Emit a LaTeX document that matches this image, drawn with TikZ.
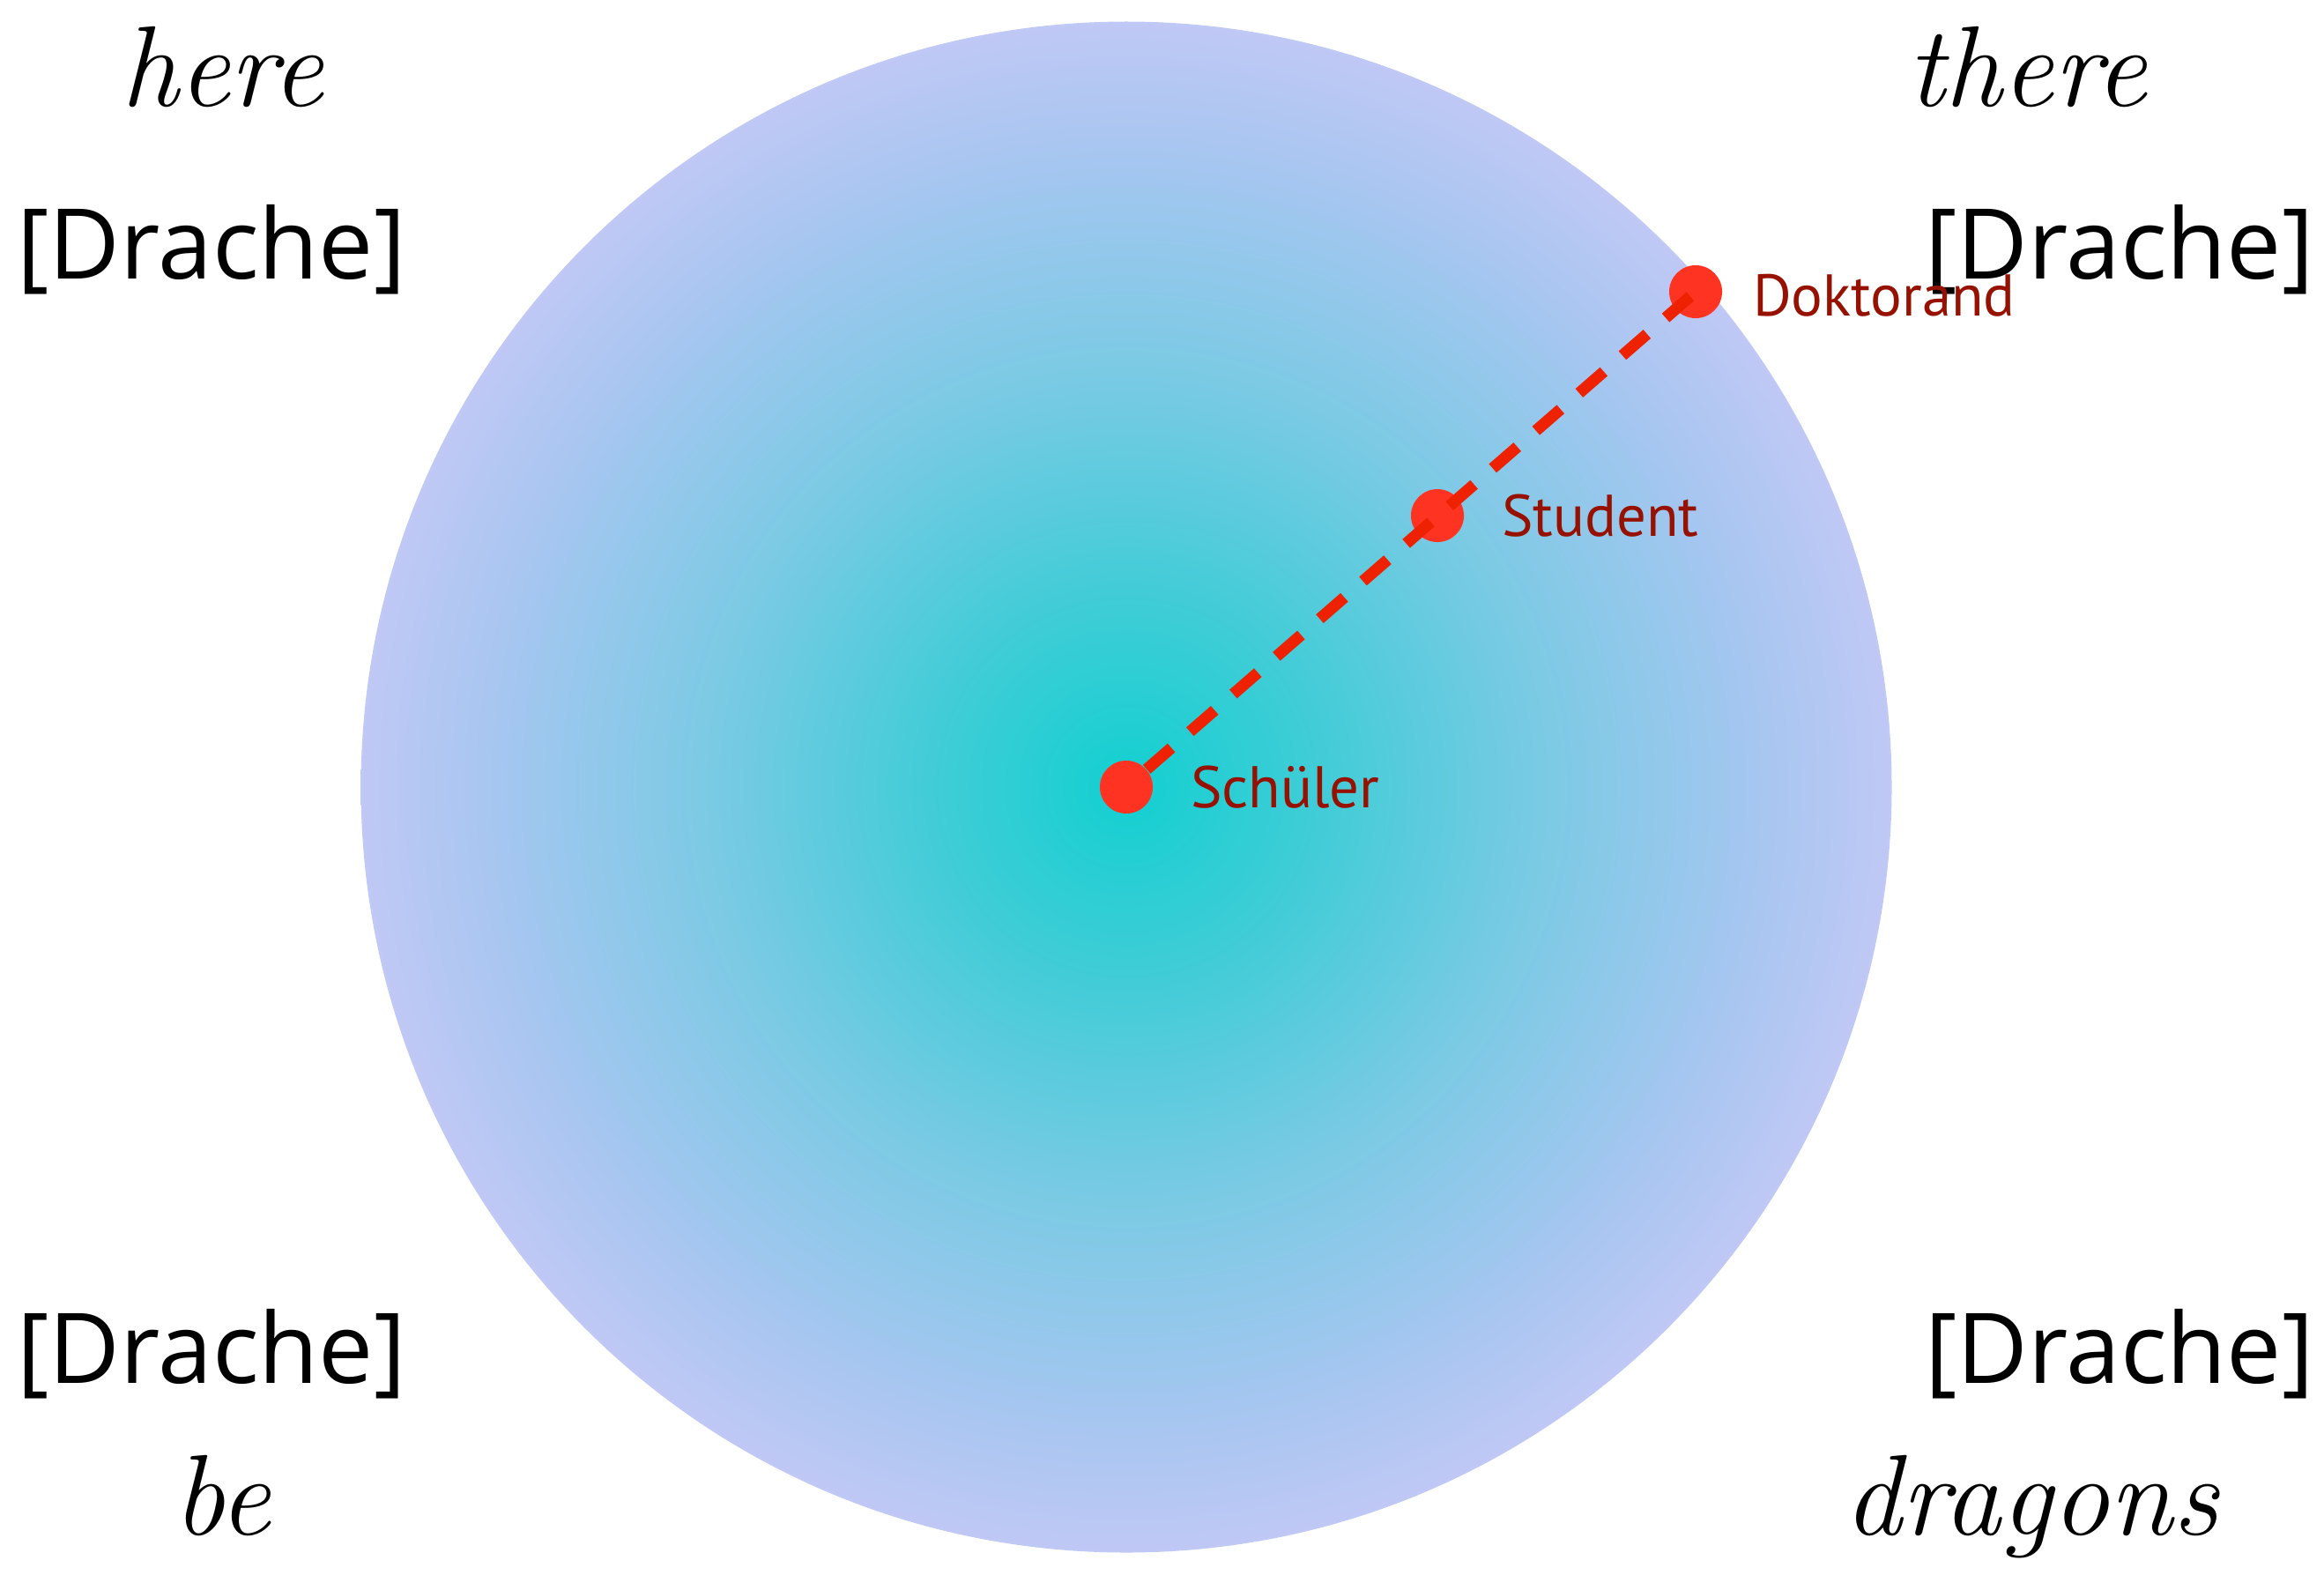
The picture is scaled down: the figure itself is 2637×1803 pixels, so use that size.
\documentclass[tikz,border=0pt]{standalone}
\usepackage{fontspec}
\usepackage{xcolor}
\usepackage{tikz}
\usetikzlibrary{positioning}
\newfontfamily\drachefont{Open Sans}
\newfontfamily\stagefont{PT Sans}
\definecolor{dotRed}{RGB}{255, 51, 34}
\definecolor{trailRed}{RGB}{238, 34, 0}
\definecolor{stageRed}{RGB}{150, 17, 0}
\definecolor{coreCyan}{RGB}{18, 208, 208}
\definecolor{innerTeal}{RGB}{70, 204, 216}
\definecolor{midSky}{RGB}{122, 202, 228}
\definecolor{outerSky}{RGB}{165, 198, 240}
\definecolor{rimLavender}{RGB}{192, 200, 245}
% rim of the circle sits at about 26bp of the shading
\pgfdeclareradialshading{mapglow}{\pgfpoint{0bp}{0bp}}{color(0bp)=(coreCyan); color(7bp)=(innerTeal); color(13.5bp)=(midSky); color(20.5bp)=(outerSky); color(25bp)=(rimLavender); color(50bp)=(rimLavender)}

\begin{document}
\begin{tikzpicture}[
  x=0.01cm, y=-0.01cm,
  dot/.style={circle, fill=dotRed, minimum size=0.6cm, inner sep=0pt},
  stage/.style={text=stageRed, font=\stagefont\fontsize{19}{21}\selectfont, anchor=west},
  drache/.style={font=\drachefont\fontsize{31.5}{36}\selectfont, inner sep=0pt, anchor=base},
  motto/.style={font=\itshape\fontsize{37}{40}\selectfont, inner sep=0pt, anchor=base},
  trail/.style={draw=trailRed, line width=0.13cm, dash pattern=on 0.37cm off 0.28cm}
]
  \useasboundingbox (0,0) rectangle (2637,1803);
  \shade[shading=mapglow] (1278,893) circle (8.68cm);

  \node[motto] (here) at (252,121) {here};
  \node[motto] (there) at (2300,121) {there};
  \node[motto] (be) at (252,1741) {be};
  \node[motto] (dragons) at (2305,1741) {dragons};

  \node[drache] (dracheNW) at (240,316) {[Drache]};
  \node[drache] (dracheNE) at (2405,316) {[Drache]};
  \node[drache] (dracheSW) at (240,1569) {[Drache]};
  \node[drache] (dracheSE) at (2405,1569) {[Drache]};

  \node[dot] (schueler) at (1278,893) {};
  \node[dot] (student) at (1631,585) {};
  \node[dot] (doktorand) at (1924,331) {};
  \node[stage, right=0.3cm of schueler] (schuelerLbl) {Schüler};
  \node[stage, right=0.3cm of student] (studentLbl) {Student};
  \node[stage, right=0.22cm of doktorand, yshift=-0.04cm] (doktorandLbl) {Doktorand};

  \draw[trail] (schueler) -- (doktorand.center);
\end{tikzpicture}
\end{document}
